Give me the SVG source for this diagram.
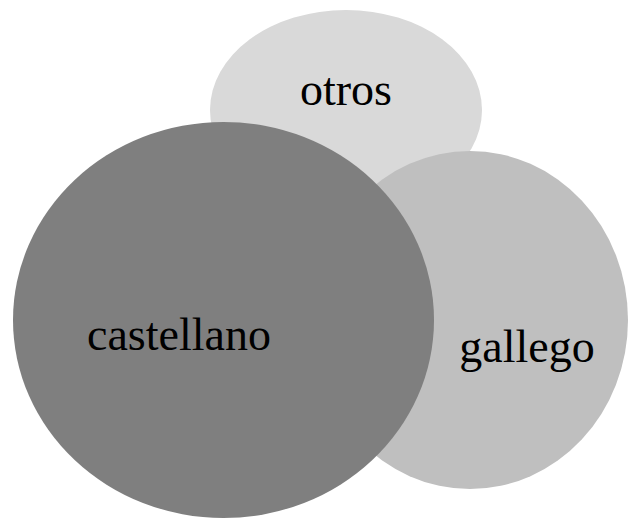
<svg xmlns="http://www.w3.org/2000/svg" width="628" height="519" viewBox="0 0 628 519">
<style>
text{font-family:"Liberation Serif","Times New Roman",serif;font-size:46px;fill:#000;text-anchor:middle}
</style>
<rect width="628" height="519" fill="#fff"/>
<g id="otros">
<ellipse cx="346" cy="110" rx="136" ry="100" fill="#d9d9d9"/>
<text x="346" y="105">otros</text>
</g>
<g id="gallego">
<ellipse cx="470" cy="320" rx="158" ry="169" fill="#bfbfbf"/>
<text x="527" y="362">gallego</text>
</g>
<g id="castellano">
<ellipse cx="223.5" cy="320" rx="210.5" ry="198" fill="#7f7f7f"/>
<text x="179" y="350">castellano</text>
</g>
<g id="connectors"/>
</svg>
